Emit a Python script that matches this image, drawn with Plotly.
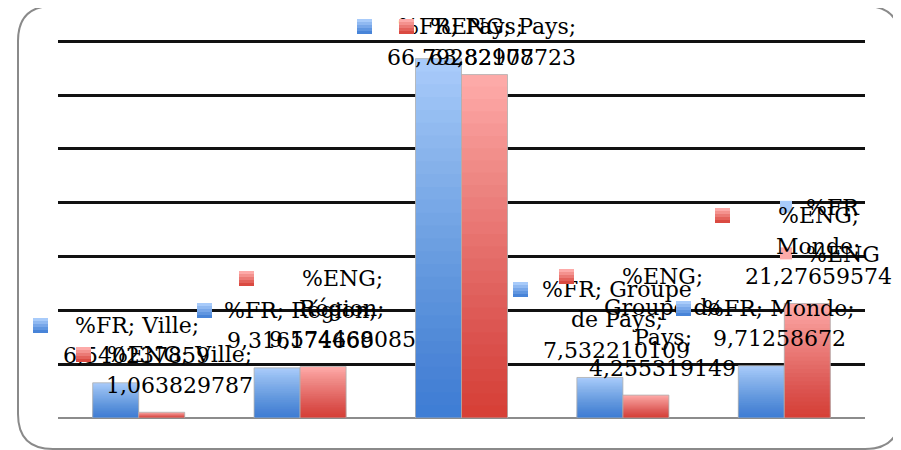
import plotly.graph_objects as go

# ---------------- data ----------------
categories = ["Ville", "Région", "Pays", "Groupe de Pays", "Monde"]
series_names = ["%FR", "%ENG"]
fr_values = [6.540237859, 9.316174669, 66.79282107, 7.532210109, 9.71258672]
eng_values = [1.063829787, 9.574468085, 63.82978723, 4.255319149, 21.27659574]

# label name lines as wrapped in the original (value line is added from the data)
fr_label_names = [["%FR; Ville;"], ["%FR; Région;"], ["%FR; Pays;"],
                  ["%FR; Groupe", "de Pays;"], ["%FR; Monde;"]]
eng_label_names = [["%ENG; Ville;"], ["%ENG;", "Région;"], ["%ENG; Pays;"],
                   ["%ENG;", "Groupe de", "Pays;"], ["%ENG;", "Monde;"]]

# ---------------- style ----------------
FONT = "DejaVu Serif"
FS = 22
BAR_W = 0.285
colors = {
    "%FR": ("#a8cbfa", (61, 124, 212)),
    "%ENG": ("#fdaaa8", (214, 63, 54)),
}
fr_dx = [21, 23, 22, 17, 18]
eng_dx = [18, 19, 18, 17, 11]
clamp_top = [False, False, True, False, False]
N_LAYERS = 28

# page body has an 8px margin: work in window pixels, convert to figure pixels
OFF = 8
W, H = 901 - OFF, 450 - OFF

fig = go.Figure()

def add_series(name, values, offset, group):
    light, dark = colors[name]
    fig.add_trace(go.Bar(
        x=categories, y=values, name=name, width=BAR_W, offset=offset,
        marker=dict(color=light, line=dict(width=0)),
        legendgroup=group, showlegend=True, hoverinfo="skip"))
    prev = 0.0
    for j in range(1, N_LAYERS):
        f = 0.97 * j / (N_LAYERS - 1)
        a = 1 - (1 - f) / (1 - prev)
        prev = f
        frac = 1 - j / N_LAYERS
        fig.add_trace(go.Bar(
            x=categories, y=[v * frac for v in values], width=BAR_W, offset=offset,
            marker=dict(color=f"rgba({dark[0]},{dark[1]},{dark[2]},{a:.4f})", line=dict(width=0)),
            legendgroup=group, showlegend=False, hoverinfo="skip"))
    fig.add_trace(go.Bar(
        x=categories, y=values, width=BAR_W, offset=offset,
        marker=dict(color="rgba(0,0,0,0)", line=dict(width=1, color="rgba(175,175,175,0.8)")),
        legendgroup=group, showlegend=False, hoverinfo="skip"))

add_series("%FR", fr_values, -BAR_W, "fr")
add_series("%ENG", eng_values, 0.0, "eng")

text_annotations = []
key_annotations = []
shapes = []

def mix(light, dark, t):
    l = (int(light[1:3], 16), int(light[3:5], 16), int(light[5:7], 16))
    return "rgb(%d,%d,%d)" % tuple(round(l[n] * (1 - t) + dark[n] * t) for n in range(3))

TOP_SHIFT = 14

def add_labels(name, values, names, dxs, xoff):
    light, dark = colors[name]
    for i, v in enumerate(values):
        lines = names[i] + [f"{v:.10g}".replace(".", ",")]
        L = len(lines)
        xc = i + xoff
        for j, t in enumerate(lines):
            if clamp_top[i]:
                ann = dict(x=xc, y=1, yref="paper", yshift=TOP_SHIFT - 31 * j)
            else:
                ann = dict(x=xc, y=v, yref="y", yshift=27 + (L - 1 - j) * 30.5)
            ann.update(text=t, xref="x", xshift=dxs[i], showarrow=False,
                       xanchor="center", yanchor="middle",
                       font=dict(family=FONT, size=FS, color="#000"))
            text_annotations.append(ann)
        # legend-key square (gradient strips) to the left of the label
        sx = dxs[i] - 96
        if clamp_top[i]:
            yref, yanc, sy = "paper", 1, TOP_SHIFT
        else:
            yref, yanc, sy = "y", v, 27 + (L - 1) * 30.5
        for k in range(5):
            key_annotations.append(dict(
                x=xc, y=yanc, xref="x", yref=yref, text=" ", showarrow=False,
                xshift=sx, yshift=sy + 7.5 - 3 * k - 1.5,
                xanchor="center", yanchor="middle",
                width=15, height=3, borderpad=0, borderwidth=0,
                bgcolor=mix(light, dark, k / 4 * 0.9),
                font=dict(size=1, color="rgba(0,0,0,0)")))

add_labels("%FR", fr_values, fr_label_names, fr_dx, -BAR_W / 2)
add_labels("%ENG", eng_values, eng_label_names, eng_dx, BAR_W / 2)

# plot area in window pixels: x 58..865, y 40..418
PL, PR, PT, PB = 58, 865, 40, 418
def px(xp):
    return (xp - PL) / (PR - PL)
def py(yp):
    return (PB - yp) / (PB - PT)
L_, T_, R_, B_, r = 18, 6, 900, 449, 35
path = (f"M{px(L_+r)},{py(T_)} L{px(R_-r)},{py(T_)} Q{px(R_)},{py(T_)} {px(R_)},{py(T_+r)} "
        f"L{px(R_)},{py(B_-r)} Q{px(R_)},{py(B_)} {px(R_-r)},{py(B_)} "
        f"L{px(L_+r)},{py(B_)} Q{px(L_)},{py(B_)} {px(L_)},{py(B_-r)} "
        f"L{px(L_)},{py(T_+r)} Q{px(L_)},{py(T_)} {px(L_+r)},{py(T_)} Z")
shapes.append(dict(type="path", xref="paper", yref="paper", path=path,
                   line=dict(color="#8a8a8a", width=2), layer="below"))

fig.update_layout(
    width=W, height=H, autosize=False,
    margin=dict(l=PL - OFF, r=901 - PR, t=PT - OFF, b=450 - PB),
    paper_bgcolor="white", plot_bgcolor="white",
    barmode="overlay",
    showlegend=True,
    legend=dict(x=px(766), y=py(186), xanchor="left", yanchor="top",
                font=dict(family=FONT, size=FS, color="#000"),
                traceorder="grouped", tracegroupgap=15,
                bgcolor="rgba(0,0,0,0)", borderwidth=0),
    xaxis=dict(range=[-0.5, len(categories) - 0.5], showticklabels=False, showgrid=False,
               zeroline=False, showline=False, ticks="", fixedrange=True),
    yaxis=dict(range=[0, 70.25], tick0=0, dtick=10, showticklabels=False, showgrid=True,
               gridcolor="#111111", gridwidth=2.5, zeroline=True,
               zerolinecolor="#8c8c8c", zerolinewidth=2, showline=False,
               ticks="", fixedrange=True),
    annotations=text_annotations + key_annotations,
    shapes=shapes,
    font=dict(family=FONT),
)

fig.write_html("out.html")
